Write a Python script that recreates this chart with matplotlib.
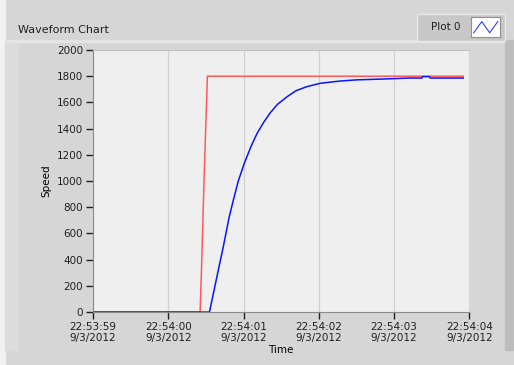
import matplotlib.pyplot as plt
from matplotlib.patches import Rectangle

# time in seconds after 22:53:59
setpoint_t = [0, 1.423, 1.44, 1.46, 1.48, 1.50, 1.52, 4.92]
setpoint_v = [0, 0, 300, 700, 1100, 1450, 1800, 1800]

speed_t = [0, 1.547, 1.65, 1.73, 1.81, 1.865, 1.93, 2.01, 2.1, 2.18, 2.27, 2.35,
           2.45, 2.58, 2.7, 2.84, 3.02, 3.28, 3.5, 3.88, 4.2, 4.37, 4.38, 4.47,
           4.48, 4.92]
speed_v = [0, 0, 280, 496, 727, 855, 1000, 1135, 1265, 1364, 1450, 1517,
           1585, 1644, 1690, 1720, 1746, 1763, 1772, 1779, 1786, 1786, 1797, 1797,
           1786, 1786]

tick_pos = [0, 1, 2, 3, 4, 5]
tick_labels = ["22:53:59\n9/3/2012", "22:54:00\n9/3/2012", "22:54:01\n9/3/2012",
               "22:54:02\n9/3/2012", "22:54:03\n9/3/2012", "22:54:04\n9/3/2012"]
y_ticks = list(range(0, 2001, 200))

plt.rcParams['font.family'] = 'DejaVu Sans'
fig = plt.figure(figsize=(5.14, 3.65), dpi=100, facecolor='#d6d6d6')

# panel bevels
fig.patches.append(Rectangle((0, 0), 0.01, 1, transform=fig.transFigure, color='#f2f2f2', zorder=0))
fig.patches.append(Rectangle((0.01, 0.04), 0.025, 0.85, transform=fig.transFigure, color='#dcdcdc', zorder=0))
fig.patches.append(Rectangle((0.01, 0.886), 0.97, 0.004, transform=fig.transFigure, color='#e4e4e4', zorder=0))
fig.patches.append(Rectangle((0.982, 0.04), 0.018, 0.85, transform=fig.transFigure, color='#bdbdbd', zorder=0))

ax = fig.add_axes([0.181, 0.145, 0.732, 0.718])
ax.set_facecolor('#efefef')
ax.plot(setpoint_t, setpoint_v, color='#ff5a5a', lw=1.1)
ax.plot(speed_t, speed_v, color='#0a14ff', lw=1.1)

ax.set_xlim(0, 5)
ax.set_ylim(0, 2000)
ax.set_xticks(tick_pos)
ax.set_xticklabels(tick_labels, fontsize=7.5, color='#202020')
ax.set_yticks(y_ticks)
ax.set_yticklabels([str(v) for v in y_ticks], fontsize=7.5, color='#202020')
ax.tick_params(length=5, width=1, color='#202020', pad=2)
ax.grid(axis='x', color='#d0d0d0', lw=0.9)
ax.set_axisbelow(True)
for s in ['left', 'bottom']:
    ax.spines[s].set_color('#8a8a8a')
ax.spines['top'].set_color('#c0c0c0')
ax.spines['right'].set_visible(False)

ax.set_xlabel("Time", fontsize=7.5, labelpad=1)
ax.set_ylabel("Speed", fontsize=7.5, labelpad=4)

fig.text(0.035, 0.918, "Waveform Chart", fontsize=8, va='center', color='#202020')

# legend box
fig.patches.append(Rectangle((0.812, 0.888), 0.17, 0.075, transform=fig.transFigure,
                             facecolor='#c8c8c8', edgecolor='#e8e8e8', lw=1, zorder=1))
fig.text(0.838, 0.925, "Plot 0", fontsize=7.5, va='center', color='#202020')
leg = fig.add_axes([0.917, 0.898, 0.056, 0.055], zorder=5)
leg.set_facecolor('white')
leg.plot([0, 1, 2, 3], [0, 1, 0, 1], color='#3040ff', lw=0.8)
leg.set_xlim(-0.3, 3.3)
leg.set_ylim(-0.4, 1.4)
leg.set_xticks([])
leg.set_yticks([])
for s in leg.spines.values():
    s.set_color('#909090')
    s.set_linewidth(0.8)

fig.savefig("out.png", dpi=100, facecolor=fig.get_facecolor())
